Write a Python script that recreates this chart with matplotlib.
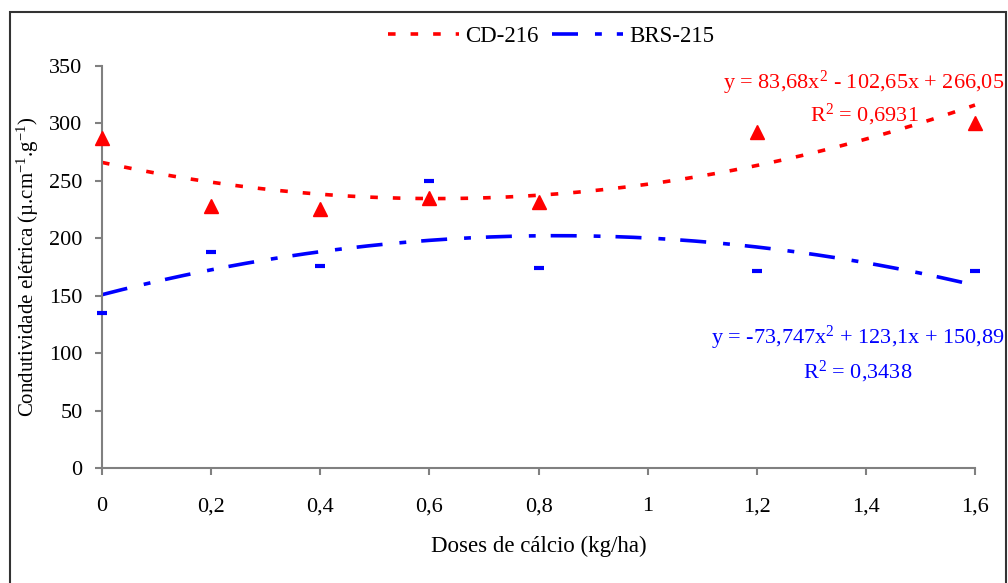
import numpy as np
import matplotlib
matplotlib.use("Agg")
import matplotlib.pyplot as plt
from matplotlib.lines import Line2D
from matplotlib.patches import Rectangle

plt.rcParams["font.family"] = ["Liberation Serif", "DejaVu Serif"]
plt.rcParams["mathtext.fontset"] = "custom"
plt.rcParams["mathtext.rm"] = "Liberation Serif"
plt.rcParams["mathtext.it"] = "Liberation Serif:italic"

# dados
doses = [0, 0.2, 0.4, 0.6, 0.8, 1.2, 1.6]
cd216 = [287, 228, 225.5, 235, 231.5, 292.5, 300]
brs215 = [135, 188, 176, 250, 174, 171.5, 171.5]

# coeficientes das linhas de tendencia (polinomio grau 2)
coef_cd216 = [83.68, -102.65, 266.05]
coef_brs215 = [-73.747, 123.1, 150.89]

xticks = [0, 0.2, 0.4, 0.6, 0.8, 1.0, 1.2, 1.4, 1.6]
xtick_labels = ["0", "0,2", "0,4", "0,6", "0,8", "1", "1,2", "1,4", "1,6"]
yticks = [0, 50, 100, 150, 200, 250, 300, 350]

RED = "#ff0000"
BLUE = "#0000ff"
GRAY = "#808080"
FS = 16

fig = plt.figure(figsize=(10.08, 5.83), dpi=100)
ax = fig.add_axes([102/1008, 1-468/583, (975-102)/1008, (468-66)/583])

xx = np.linspace(0, 1.6, 300)
lw = 2.6
red_ls = (0, (2.1, 4.15))
blue_ls = (0, (7.2, 4.7, 1.9, 4.15))
ax.plot(xx, np.polyval(coef_cd216, xx), color=RED, lw=lw, ls=red_ls, clip_on=False)
ax.plot(xx, np.polyval(coef_brs215, xx), color=BLUE, lw=lw, ls=blue_ls, clip_on=False)

ax.plot(doses, cd216, ls="none", marker="^", ms=10, color=RED, clip_on=False, zorder=5)
ax.plot(doses, brs215, ls="none", marker="_", ms=6.5, mew=3, color=BLUE, clip_on=False, zorder=5)

ax.set_xlim(0, 1.6)
ax.set_ylim(0, 350)
ax.set_xticks(xticks)
ax.set_xticklabels(xtick_labels)
ax.set_yticks(yticks)
for s in ["top", "right"]:
    ax.spines[s].set_visible(False)
for s in ["left", "bottom"]:
    ax.spines[s].set_color(GRAY)
    ax.spines[s].set_linewidth(1.5)
ax.tick_params(axis="both", direction="out", length=5, width=1.5, color=GRAY,
               labelsize=FS, labelcolor="black")
ax.tick_params(axis="y", pad=9)
ax.tick_params(axis="x", pad=26)
for t in ax.get_xticklabels():
    t.set_va("baseline")

ax.set_xlabel("Doses de cálcio (kg/ha)", fontsize=16.5, labelpad=14)
ax.set_ylabel(r"Condutividade elétrica (µ.cm$^{-1}$.g$^{-1}$)", fontsize=15, labelpad=6)

# equacoes
EQ = 16
ax.text(864/1008, 1-83/583, r"y = 83,68x$^{2}$ - 102,65x + 266,05", transform=fig.transFigure,
        color=RED, fontsize=EQ, ha="center", va="center")
ax.text(864/1008, 1-115/583, r"R$^{2}$ = 0,6931", transform=fig.transFigure,
        color=RED, fontsize=EQ, ha="center", va="center")
ax.text(858/1008, 1-338/583, r"y = -73,747x$^{2}$ + 123,1x + 150,89", transform=fig.transFigure,
        color=BLUE, fontsize=EQ, ha="center", va="center")
ax.text(858/1008, 1-372/583, r"R$^{2}$ = 0,3438", transform=fig.transFigure,
        color=BLUE, fontsize=EQ, ha="center", va="center")

handles = [Line2D([], [], color=RED, lw=lw, ls=red_ls),
           Line2D([], [], color=BLUE, lw=lw, ls=blue_ls)]
fig.legend(handles, ["CD-216", "BRS-215"], loc="center", bbox_to_anchor=(551/1008, 1-36/583),
           ncol=2, frameon=False, fontsize=16.5, handlelength=3.1, handletextpad=0.25,
           columnspacing=0.6)

# moldura
fig.add_artist(Rectangle((10/1008, -0.1), 996/1008, 1.1 - 12/583, transform=fig.transFigure,
                         fill=False, edgecolor="#333333", lw=1.5))

fig.savefig("out.png", dpi=100)
